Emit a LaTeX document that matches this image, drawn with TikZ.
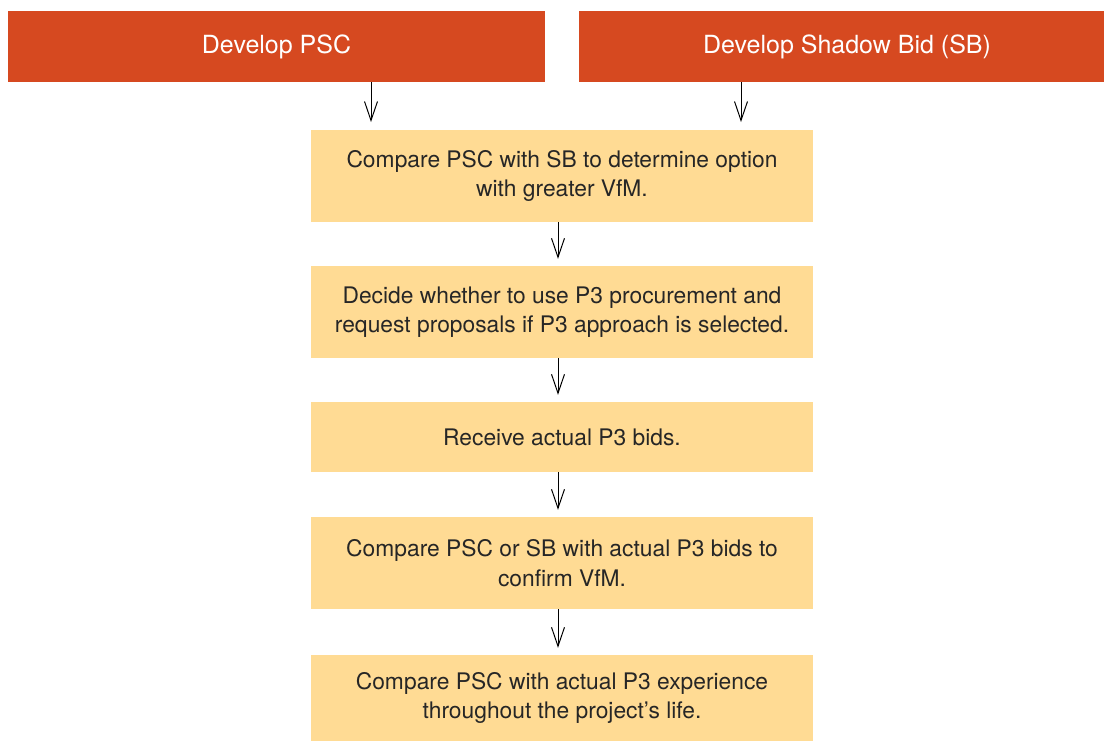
\documentclass[tikz,border=0pt]{standalone}
\usepackage{fontspec}
\setmainfont{TeX Gyre Heros}
\usetikzlibrary{arrows.meta}
\definecolor{headorange}{HTML}{D64920}
\definecolor{stepyellow}{HTML}{FFDB94}
\tikzset{
  head/.style={fill=headorange, text=white, minimum width=537pt, minimum height=71pt,
    inner sep=0pt, font=\fontsize{25}{30}\selectfont},
  stepbox/.style={fill=stepyellow, text=black!85, minimum width=502pt, inner sep=0pt,
    align=center, font=\fontsize{22.8}{29.5}\selectfont},
  flow/.style={-{Straight Barb[length=19pt,width=13pt]}, line width=1pt}
}
\begin{document}
\begin{tikzpicture}[x=1pt,y=-1pt]
    \useasboundingbox (0,0) rectangle (1104,740);
    \clip (0,0) rectangle (1104,740);
    \node[head] (psc) at (276.5,46.5) {Develop PSC};
    \node[head, minimum width=536pt] (sb) at (847,46.5) {Develop Shadow Bid (SB)};
    \node[stepbox, minimum height=92pt] (cmp) at (562,176) {Compare PSC with SB to determine option\\with greater VfM.};
    \node[stepbox, minimum height=92pt] (dec) at (562,312) {Decide whether to use P3 procurement and\\request proposals if P3 approach is selected.};
    \node[stepbox, minimum height=70pt] (rec) at (562,437) {Receive actual P3 bids.};
    \node[stepbox, minimum height=92pt] (conf) at (562,563) {Compare PSC or SB with actual P3 bids to\\confirm VfM.};
    \node[stepbox, minimum height=86pt] (exp) at (562,698) {Compare PSC with actual P3 experience\\throughout the project's life.};
    \coordinate (pscend) at (371,122);
    \coordinate (sbend) at (741,122);
    \draw[flow] (psc.south -| pscend) -- (pscend);
    \draw[flow] (sb.south -| sbend) -- (sbend);
    \foreach \a/\b in {cmp/dec, dec/rec, rec/conf, conf/exp}
      \draw[flow, shorten >=7pt] ([xshift=-4pt]\a.south) -- ([xshift=-4pt]\b.north);
\end{tikzpicture}
\end{document}
